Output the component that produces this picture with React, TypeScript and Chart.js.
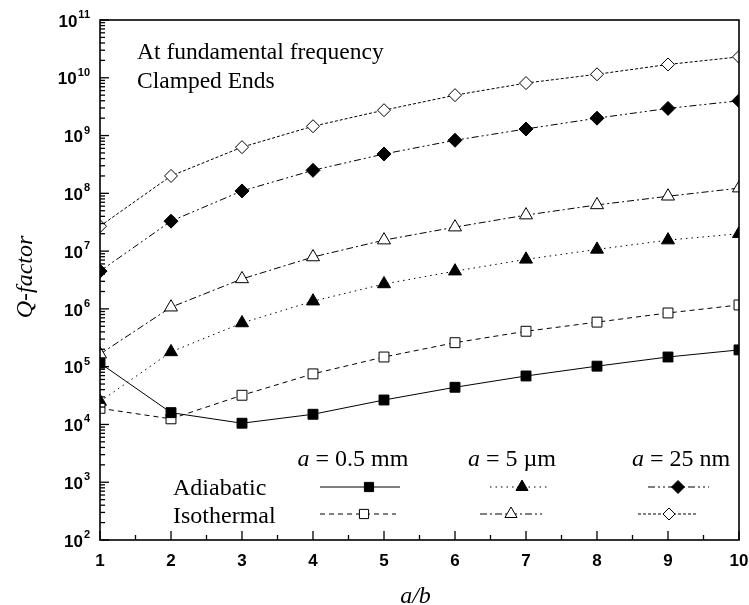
import React, { useEffect, useRef } from 'react';
import { Chart, registerables } from 'chart.js';

Chart.register(...registerables);

// ---- data ----
const ratios = [1, 2, 3, 4, 5, 6, 7, 8, 9, 10];
const adiabatic05mm = [1.15e5, 1.6e4, 1.05e4, 1.5e4, 2.65e4, 4.4e4, 6.9e4, 1.02e5, 1.47e5, 1.95e5];
const isothermal05mm = [1.9e4, 1.25e4, 3.2e4, 7.5e4, 1.47e5, 2.6e5, 4.1e5, 5.9e5, 8.5e5, 1.17e6];
const adiabatic5um = [2.5e4, 1.8e5, 5.7e5, 1.36e6, 2.7e6, 4.5e6, 7.2e6, 1.07e7, 1.55e7, 2.0e7];
const isothermal5um = [1.65e5, 1.07e6, 3.3e6, 7.9e6, 1.55e7, 2.6e7, 4.2e7, 6.3e7, 8.9e7, 1.23e8];
const adiabatic25nm = [4.5e6, 3.3e7, 1.1e8, 2.5e8, 4.8e8, 8.3e8, 1.3e9, 2.0e9, 2.95e9, 4.0e9];
const isothermal25nm = [2.7e7, 2.0e8, 6.3e8, 1.45e9, 2.75e9, 5.0e9, 8.1e9, 1.15e10, 1.7e10, 2.3e10];

const xTickValues = [1, 2, 3, 4, 5, 6, 7, 8, 9, 10];
const yTickExponents = [2, 3, 4, 5, 6, 7, 8, 9, 10, 11];
const sizeLabels = ['0.5 mm', '5 \u00B5m', '25 nm'];
const modeLabels = ['Adiabatic', 'Isothermal'];
const annotationLines = ['At fundamental frequency', 'Clamped Ends'];
const xTitle = 'a/b';
const yTitle = 'Q-factor';

const SERIF = '"Liberation Serif", "Times New Roman", serif';
const SANS = '"Liberation Sans", Arial, sans-serif';

const DASH_SOLID: number[] = [];
const DASH_DASHED = [5, 4];
const DASH_DOTTED = [1.5, 4];
const DASH_DASHDOT = [7, 3, 2, 3];
const DASH_DASHDOTDOT = [7, 3, 2, 3, 2, 3];
const DASH_SHORT = [3, 2];

type Series = { label: string; values: number[]; style: string; filled: boolean; dash: number[]; radius: number };

const series: Series[] = [
  { label: 'Adiabatic a = 0.5 mm', values: adiabatic05mm, style: 'rect', filled: true, dash: DASH_SOLID, radius: 7 },
  { label: 'Isothermal a = 0.5 mm', values: isothermal05mm, style: 'rect', filled: false, dash: DASH_DASHED, radius: 7 },
  { label: 'Adiabatic a = 5 µm', values: adiabatic5um, style: 'triangle', filled: true, dash: DASH_DOTTED, radius: 7.5 },
  { label: 'Isothermal a = 5 µm', values: isothermal5um, style: 'triangle', filled: false, dash: DASH_DASHDOT, radius: 7.5 },
  { label: 'Adiabatic a = 25 nm', values: adiabatic25nm, style: 'rectRot', filled: true, dash: DASH_DASHDOTDOT, radius: 7 },
  { label: 'Isothermal a = 25 nm', values: isothermal25nm, style: 'rectRot', filled: false, dash: DASH_SHORT, radius: 6.5 },
];

function markerPath(ctx: CanvasRenderingContext2D, style: string, x: number, y: number, r: number) {
  ctx.beginPath();
  if (style === 'rect') {
    const s = Math.SQRT1_2 * r;
    ctx.rect(x - s, y - s, 2 * s, 2 * s);
  } else if (style === 'triangle') {
    ctx.moveTo(x, y - r);
    ctx.lineTo(x + r * 0.866, y + r / 2);
    ctx.lineTo(x - r * 0.866, y + r / 2);
    ctx.closePath();
  } else {
    ctx.moveTo(x, y - r);
    ctx.lineTo(x + r, y);
    ctx.lineTo(x, y + r);
    ctx.lineTo(x - r, y);
    ctx.closePath();
  }
}

const overlayPlugin = {
  id: 'overlay',
  afterDraw(chart: any) {
    const ctx: CanvasRenderingContext2D = chart.ctx;
    const { left, right, top, bottom } = chart.chartArea;
    const xs = chart.scales.x;
    const ys = chart.scales.y;
    ctx.save();
    ctx.strokeStyle = '#000';
    ctx.fillStyle = '#000';
    ctx.setLineDash([]);

    // frame
    ctx.lineWidth = 1.6;
    ctx.strokeRect(left, top, right - left, bottom - top);

    // y ticks (inward)
    ctx.lineWidth = 1.3;
    yTickExponents.forEach((e, i) => {
      const py = ys.getPixelForValue(Math.pow(10, e));
      ctx.beginPath();
      ctx.moveTo(left, py);
      ctx.lineTo(left + 9, py);
      ctx.stroke();
      if (i < yTickExponents.length - 1) {
        for (let m = 2; m <= 9; m++) {
          const pm = ys.getPixelForValue(m * Math.pow(10, e));
          ctx.beginPath();
          ctx.moveTo(left, pm);
          ctx.lineTo(left + 5, pm);
          ctx.stroke();
        }
      }
    });
    // x ticks (inward)
    xTickValues.forEach((v, i) => {
      const px = xs.getPixelForValue(v);
      ctx.beginPath();
      ctx.moveTo(px, bottom);
      ctx.lineTo(px, bottom - 9);
      ctx.stroke();
      if (i < xTickValues.length - 1) {
        const ph = xs.getPixelForValue(v + 0.5);
        ctx.beginPath();
        ctx.moveTo(ph, bottom);
        ctx.lineTo(ph, bottom - 5);
        ctx.stroke();
      }
    });

    // y tick labels 10^e
    yTickExponents.forEach((e) => {
      const py = ys.getPixelForValue(Math.pow(10, e));
      ctx.font = `bold 11px ${SANS}`;
      const sup = String(e);
      const supW = ctx.measureText(sup).width;
      const rightEdge = left - 10;
      ctx.textAlign = 'left';
      ctx.textBaseline = 'alphabetic';
      ctx.fillText(sup, rightEdge - supW, py - 2);
      ctx.font = `bold 17px ${SANS}`;
      ctx.textAlign = 'right';
      ctx.textBaseline = 'middle';
      ctx.fillText('10', rightEdge - supW - 1, py + 2);
    });

    // x tick labels
    ctx.font = `bold 17px ${SANS}`;
    ctx.textAlign = 'center';
    ctx.textBaseline = 'middle';
    xTickValues.forEach((v) => {
      ctx.fillText(String(v), xs.getPixelForValue(v), bottom + 21);
    });

    // axis titles
    ctx.font = `italic 24px ${SERIF}`;
    ctx.textAlign = 'center';
    ctx.textBaseline = 'alphabetic';
    ctx.fillText(xTitle, (left + right) / 2 - 4, bottom + 63);
    ctx.save();
    ctx.translate(32, 277);
    ctx.rotate(-Math.PI / 2);
    ctx.fillText(yTitle, 0, 0);
    ctx.restore();

    // annotation
    ctx.font = `23.5px ${SERIF}`;
    ctx.textAlign = 'left';
    ctx.fillText(annotationLines[0], 137, 59);
    ctx.fillText(annotationLines[1], 137, 88);

    // legend headers
    const headerCenters = [353, 512, 681];
    const headerBaseline = 466;
    sizeLabels.forEach((lab, i) => {
      ctx.font = `italic 24px ${SERIF}`;
      const wa = ctx.measureText('a').width;
      ctx.font = `24px ${SERIF}`;
      const rest = ' = ' + lab;
      const wr = ctx.measureText(rest).width;
      const x0 = headerCenters[i] - (wa + wr) / 2;
      ctx.font = `italic 24px ${SERIF}`;
      ctx.textAlign = 'left';
      ctx.fillText('a', x0, headerBaseline);
      ctx.font = `24px ${SERIF}`;
      ctx.fillText(rest, x0 + wa, headerBaseline);
    });
    // row labels
    ctx.font = `24px ${SERIF}`;
    ctx.fillText(modeLabels[0], 173, 495);
    ctx.fillText(modeLabels[1], 173, 523);

    // legend samples
    const rowsY = [487, 514];
    const samples = [
      { s: series[0], x1: 320, x2: 400, mx: 369, row: 0 },
      { s: series[2], x1: 490, x2: 548, mx: 522, row: 0 },
      { s: series[4], x1: 648, x2: 709, mx: 678, row: 0 },
      { s: series[1], x1: 320, x2: 396, mx: 364, row: 1 },
      { s: series[3], x1: 480, x2: 542, mx: 511, row: 1 },
      { s: series[5], x1: 638, x2: 697, mx: 669, row: 1 },
    ];
    samples.forEach(({ s, x1, x2, mx, row }) => {
      const py = rowsY[row];
      ctx.lineWidth = 1;
      ctx.setLineDash(s.dash);
      ctx.beginPath();
      ctx.moveTo(x1, py);
      ctx.lineTo(x2, py);
      ctx.stroke();
      ctx.setLineDash([]);
      const r = s.style === 'rect' ? 6.5 : s.radius - 0.5;
      markerPath(ctx, s.style, mx, py, r);
      ctx.fillStyle = s.filled ? '#000' : '#fff';
      ctx.fill();
      ctx.stroke();
      ctx.fillStyle = '#000';
    });

    ctx.restore();
  },
};

export default function App() {
  const ref = useRef<HTMLCanvasElement | null>(null);
  useEffect(() => {
    if (!ref.current) return;
    const chart = new Chart(ref.current, {
      type: 'line',
      data: {
        datasets: series.map((s) => ({
          label: s.label,
          data: ratios.map((r, i) => ({ x: r, y: s.values[i] })),
          borderColor: '#000',
          borderWidth: 1,
          borderDash: s.dash,
          backgroundColor: s.filled ? '#000' : '#fff',
          pointStyle: s.style,
          pointRadius: s.radius,
          pointBackgroundColor: s.filled ? '#000' : '#fff',
          pointBorderColor: '#000',
          pointBorderWidth: 1,
          tension: 0,
          fill: false,
        })),
      },
      options: {
        animation: false,
        responsive: false,
        events: [],
        layout: { padding: { left: 100, right: 10, top: 20, bottom: 65 } },
        plugins: { legend: { display: false }, tooltip: { enabled: false }, title: { display: false } },
        scales: {
          x: { type: 'linear', min: 1, max: 10, display: false },
          y: { type: 'logarithmic', min: 1e2, max: 1e11, display: false },
        },
      },
      plugins: [overlayPlugin],
    } as any);
    return () => chart.destroy();
  }, []);
  return (
    <div style={{ position: 'absolute', left: 0, top: 0, width: 749, height: 605, background: '#fff' }}>
      <canvas ref={ref} width={749} height={605} style={{ display: 'block' }} />
    </div>
  );
}
